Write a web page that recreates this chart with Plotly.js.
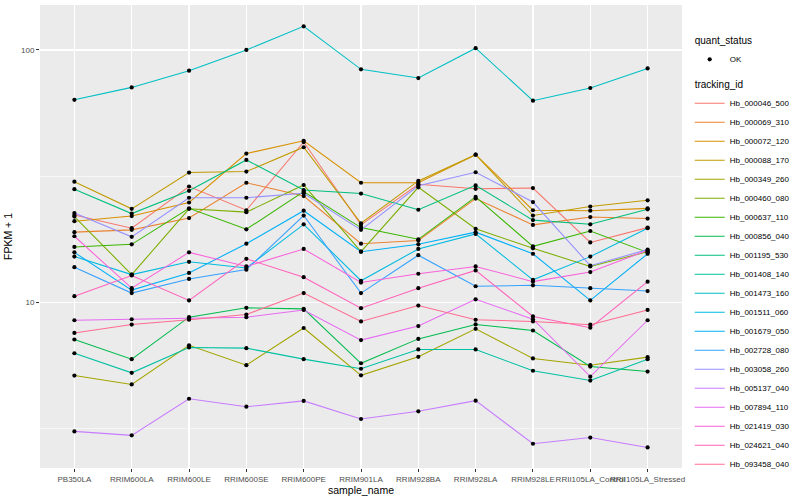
<!DOCTYPE html>
<html>
<head>
<meta charset="utf-8">
<script src="https://cdn.plot.ly/plotly-3.0.1.min.js"></script>
<style>html,body{margin:0;padding:0;background:#fff;}#chart{width:800px;height:500px;}</style>
</head>
<body>
<div id="chart"></div>
<script>
// ---- data (FPKM + 1) ----
const sampleNames = ["PB350LA","RRIM600LA","RRIM600LE","RRIM600SE","RRIM600PE","RRIM901LA","RRIM928BA","RRIM928LA","RRIM928LE","RRII105LA_Control","RRII105LA_Stressed"];
const trackingIds = ["Hb_000046_500","Hb_000069_310","Hb_000072_120","Hb_000088_170","Hb_000349_260","Hb_000460_080","Hb_000637_110","Hb_000856_040","Hb_001195_530","Hb_001408_140","Hb_001473_160","Hb_001511_060","Hb_001679_050","Hb_002728_080","Hb_003058_260","Hb_005137_040","Hb_007894_110","Hb_021419_030","Hb_024621_040","Hb_093458_040"];

const hb_000046_500 = [22.2, 19.7, 28.8, 23.2, 43.2, 20.3, 29.4, 28.2, 28.4, 17.3, 19.8];
const hb_000069_310 = [19.0, 19.4, 21.6, 29.8, 26.4, 17.1, 17.6, 25.8, 20.3, 21.8, 21.5];
const hb_000072_120 = [21.0, 22.0, 24.9, 38.9, 43.7, 29.8, 29.8, 38.5, 23.2, 23.1, 23.6];
const hb_000088_170 = [30.1, 23.5, 32.7, 33.0, 41.2, 20.6, 30.3, 38.5, 22.1, 24.0, 25.4];
const hb_000349_260 = [5.14, 4.74, 6.77, 5.65, 7.93, 5.15, 6.10, 7.87, 6.01, 5.65, 6.08];
const hb_000460_080 = [21.9, 12.9, 23.5, 22.8, 29.2, 15.9, 28.6, 19.6, 16.4, 13.9, 15.9];
const hb_000637_110 = [16.6, 17.0, 23.6, 19.5, 27.5, 19.8, 17.8, 26.2, 16.7, 19.2, 15.8];
const hb_000856_040 = [7.14, 5.97, 8.75, 9.53, 9.44, 5.75, 7.18, 8.19, 7.75, 5.58, 5.33];
const hb_001195_530 = [28.1, 22.5, 27.7, 36.7, 27.9, 27.0, 23.3, 29.1, 21.2, 20.4, 23.4];
const hb_001408_140 = [6.30, 5.27, 6.64, 6.60, 5.97, 5.47, 6.52, 6.52, 5.37, 4.91, 5.97];
const hb_001473_160 = [63.5, 71.1, 82.8, 100, 124, 83.8, 77.4, 101.6, 63.0, 70.7, 84.5];
const hb_001511_060 = [15.2, 12.9, 14.5, 13.7, 20.4, 12.2, 16.3, 18.7, 12.3, 15.2, 19.7];
const hb_001679_050 = [15.8, 11.2, 13.1, 17.1, 23.1, 15.9, 17.0, 19.0, 15.6, 10.2, 15.6];
const hb_002728_080 = [13.8, 10.9, 12.4, 13.5, 22.1, 10.9, 15.4, 11.6, 11.7, 11.4, 11.1];
const hb_003058_260 = [22.6, 18.2, 26.0, 26.0, 27.1, 19.4, 29.0, 32.8, 25.0, 14.0, 16.2];
const hb_005137_040 = [3.09, 2.98, 4.16, 3.87, 4.08, 3.46, 3.71, 4.09, 2.76, 2.92, 2.67];
const hb_007894_110 = [8.51, 8.59, 8.65, 8.75, 9.35, 7.10, 8.07, 10.3, 8.59, 5.09, 8.51];
const hb_021419_030 = [18.3, 11.4, 15.8, 13.9, 16.3, 12.0, 13.0, 13.9, 12.1, 13.2, 16.1];
const hb_024621_040 = [10.6, 12.8, 10.2, 14.9, 12.6, 9.5, 11.4, 13.4, 8.81, 7.95, 12.1];
const hb_093458_040 = [7.58, 8.18, 8.55, 8.97, 10.9, 8.42, 9.73, 8.55, 8.42, 8.17, 9.35];
const quantStatus = "OK";

const seriesValues = [hb_000046_500, hb_000069_310, hb_000072_120, hb_000088_170, hb_000349_260, hb_000460_080, hb_000637_110, hb_000856_040, hb_001195_530, hb_001408_140, hb_001473_160, hb_001511_060, hb_001679_050, hb_002728_080, hb_003058_260, hb_005137_040, hb_007894_110, hb_021419_030, hb_024621_040, hb_093458_040];

// ggplot2 default hue palette for 20 levels
const palette = ["#F8766D","#EA8331","#D89000","#C09B00","#A3A500","#7CAE00","#39B600","#00BB4E","#00BF7D","#00C1A3","#00BFC4","#00BAE0","#00B0F6","#35A2FF","#9590FF","#C77CFF","#E76BF3","#FA62DB","#FF62BC","#FF6C91"];

const FONT = "Liberation Sans, Arial, Helvetica, sans-serif";

const traces = [];
trackingIds.forEach((id, i) => {
  traces.push({
    type: "scatter", mode: "lines",
    x: sampleNames, y: seriesValues[i],
    name: id,
    line: {color: palette[i], width: 1.05},
    legendgroup: "tid",
    legendgrouptitle: {text: "tracking_id", font: {size: 10, color: "#000", family: FONT}},
    legendrank: 10 + i,
    hoverinfo: "x+y+name"
  });
});
// all points (quant_status = OK)
const px = [], py = [];
seriesValues.forEach(arr => arr.forEach((v, j) => { px.push(sampleNames[j]); py.push(v); }));
traces.push({
  type: "scatter", mode: "markers",
  x: px, y: py, name: quantStatus,
  marker: {color: "#000", size: 4.2, symbol: "circle"},
  legendgroup: "qs",
  legendgrouptitle: {text: "quant_status", font: {size: 10, color: "#000", family: FONT}},
  legendrank: 1
});

const layout = {
  width: 800, height: 500,
  margin: {l: 40, r: 116, t: 5, b: 32},
  paper_bgcolor: "#FFFFFF",
  plot_bgcolor: "#EBEBEB",
  font: {family: FONT, size: 8, color: "#4D4D4D"},
  showlegend: true,
  legend: {
    x: 1.012, xanchor: "left", y: 0.955, yanchor: "top",
    bgcolor: "rgba(0,0,0,0)",
    font: {size: 8, color: "#000", family: FONT},
    traceorder: "grouped",
    tracegroupgap: 6,
    itemwidth: 30
  },
  xaxis: {
    type: "category",
    categoryorder: "array", categoryarray: sampleNames,
    range: [-0.6, 10.6],
    showgrid: true, gridcolor: "#FFFFFF", gridwidth: 1.1,
    zeroline: false, showline: false,
    ticks: "outside", ticklen: 3, tickcolor: "#333333", tickwidth: 1,
    tickangle: 0,
    tickfont: {size: 8, color: "#4D4D4D", family: FONT},
    title: {text: "sample_name", font: {size: 10.5, color: "#000", family: FONT}, standoff: 4}
  },
  yaxis: {
    type: "log",
    range: [0.345, 2.178],
    tickmode: "array", tickvals: [10, 100], ticktext: ["10", "100"],
    showgrid: true, gridcolor: "#FFFFFF", gridwidth: 1.1,
    minor: {tickmode: "array", tickvals: [3.1623, 31.623], showgrid: true, gridcolor: "#FFFFFF", gridwidth: 0.55, ticks: ""},
    zeroline: false, showline: false,
    ticks: "outside", ticklen: 3, tickcolor: "#333333", tickwidth: 1,
    tickfont: {size: 8, color: "#4D4D4D", family: FONT},
    title: {text: "FPKM + 1", font: {size: 10.5, color: "#000", family: FONT}, standoff: 6}
  }
};

Plotly.newPlot("chart", traces, layout, {displayModeBar: false, staticPlot: true});
</script>
</body>
</html>
